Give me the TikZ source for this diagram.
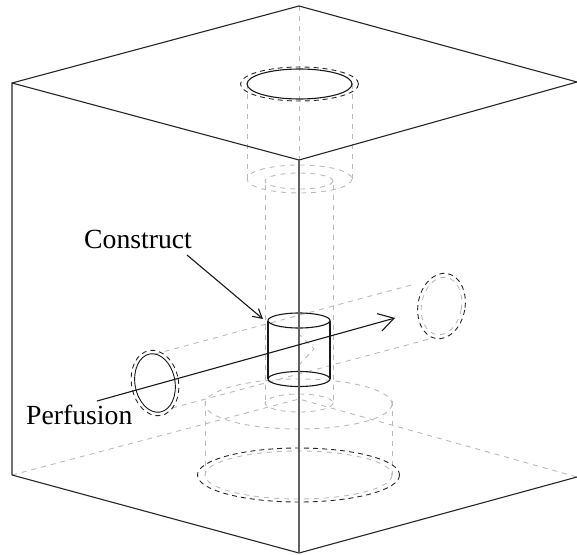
\documentclass[tikz,border=0pt]{standalone}
\usepackage{fontspec}
\setmainfont{Liberation Serif}
\usetikzlibrary{arrows.meta}
\tikzset{
  x=1pt,y=-1pt,
  hidden/.style={draw=black!27,line width=0.9pt,dash pattern=on 5pt off 5pt},
  rim/.style={draw=black!85,line width=0.9pt,dash pattern=on 5pt off 4pt},
  edge/.style={draw=black!85,line width=1.1pt},
  frontedge/.style={draw=black!62,line width=1.5pt},
  solidpart/.style={draw=black!90,line width=1.1pt},
  label/.style={font=\fontsize{27.7}{30}\selectfont,inner sep=0pt,anchor=base west,text=black},
  pointer/.style={draw=black!90,line width=1.1pt}
}
\begin{document}
\begin{tikzpicture}
\useasboundingbox (0,0) rectangle (577,554);
% cube corners
\coordinate (tl) at (12,83);
\coordinate (tb) at (299,6);
\coordinate (tr) at (577,82);
\coordinate (tf) at (299,160);
\coordinate (bl) at (12,475);
\coordinate (bb) at (299,399);
\coordinate (br) at (577,477);
\coordinate (bf) at (299,553);
% hidden cube edges
\draw[hidden] (tb) -- (bb);
\draw[hidden] (bl) -- (bb) -- (br);
% upper wide bore
\draw[hidden] (247,84) -- (247,179);
\draw[hidden] (352,84) -- (352,179);
\draw[hidden] (299.5,179) ellipse (52.5 and 14);
% narrow bore
\draw[hidden] (265,185) -- (265,403);
\draw[hidden] (333,185) -- (333,403);
\draw[hidden] (299,181) ellipse (34 and 8);
\draw[hidden] (299,403) ellipse (34 and 9);
% lower wide bore
\draw[hidden] (205,401) -- (205,475);
\draw[hidden] (392,401) -- (392,475);
\draw[hidden] (298.5,404) ellipse (93.5 and 25);
\draw[hidden] (298.5,475) ellipse (93.5 and 24);
% horizontal bore
\draw[hidden] (155,354) -- (415,284);
\draw[hidden] (172,408) -- (433,338);
\draw[hidden,rotate around={-10:(441.5,306)}] (441.5,306) ellipse (20 and 29);
\draw[hidden] (298,333) -- (314,349) -- (299,365);
% ports
\draw[rim] (299.5,84) ellipse (59 and 17);
\draw[rim] (298.5,475) ellipse (101 and 27);
\draw[rim,rotate around={10:(155,383)}] (155,383) ellipse (23.5 and 33);
\draw[rim,rotate around={-10:(441.5,306)}] (441.5,306) ellipse (23.5 and 33);
\draw[solidpart] (299.5,84) ellipse (52.5 and 15);
\draw[solidpart,line width=0.9pt,rotate around={10:(155,383)}] (155,383) ellipse (20 and 29.5);
% construct
\draw[solidpart] (299,320.5) ellipse (31 and 7.5);
\draw[solidpart] (299,379) ellipse (31 and 7.5);
\draw[solidpart] (268,320.5) -- (268,379);
\draw[solidpart] (330,320.5) -- (330,379);
% cube edges
\draw[edge] (bl) -- (tl) -- (tb) -- (tr);
\draw[edge] (tl) -- (tf) -- (tr);
\draw[edge] (bl) -- (bf) -- (br);
\draw[frontedge] (tf) -- (bf);
% labels and pointers
\node[label] (construct) at (84,248) {Construct};
\node[label] (perfusion) at (26,424) {Perfusion};
\coordinate (constructfrom) at (187,255);
\coordinate (constructto) at (263,319);
\coordinate (perfusionfrom) at (97,401);
\coordinate (perfusionto) at (395,318);
\draw[pointer,-{Straight Barb[length=9pt,width=10pt]}] (constructfrom) -- (constructto);
\draw[pointer,-{Straight Barb[length=15pt,width=18pt]}] (perfusionfrom) -- (perfusionto);
\end{tikzpicture}
\end{document}
